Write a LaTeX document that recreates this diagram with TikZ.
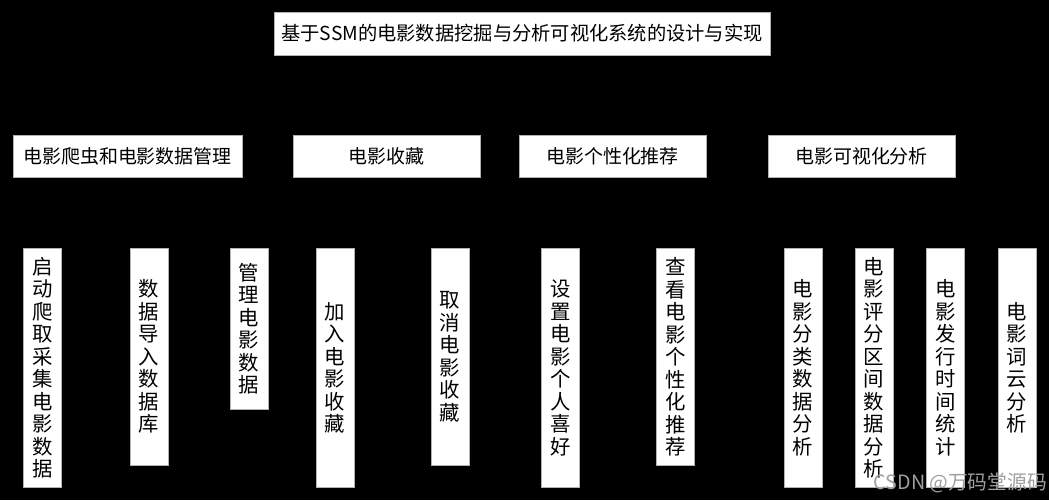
\documentclass[tikz,border=0pt]{standalone}
\usepackage{fontspec}
\setmainfont{Noto Sans CJK SC}
\usetikzlibrary{positioning}

\tikzset{
  box/.style={rectangle,fill=white,draw=gray!60,line width=0.4pt,inner sep=0pt,align=center},
  topbox/.style={box,minimum width=12.4cm,minimum height=1.075cm,font=\fontsize{13.7}{16}\selectfont},
  midbox/.style={box,minimum height=1.05cm,font=\fontsize{13.5}{15}\selectfont},
  leaf/.style={box,anchor=north,minimum width=0.95cm,font=\fontsize{14.5}{16}\selectfont}
}
\newcommand{\leafnode}[4]{\node[leaf,minimum height=#3*0.025cm] (#1) at (#2,248) {#4}}

\begin{document}
\begin{tikzpicture}[x=0.025cm,y=-0.025cm]
  \fill[black] (0,0) rectangle (1049,500);
  \useasboundingbox (0,0) rectangle (1049,500);

  % title
  \node[topbox] (root) at (522,33.5) {基于SSM的电影数据挖掘与分析可视化系统的设计与实现};

  % modules
  \node[midbox,minimum width=229*0.025cm] (crawl)  at (127.5,156) {电影爬虫和电影数据管理};
  \node[midbox,minimum width=187*0.025cm] (fav)    at (386.5,156) {电影收藏};
  \node[midbox,minimum width=187*0.025cm] (rec)    at (612.5,156) {电影个性化推荐};
  \node[midbox,minimum width=187*0.025cm] (vis)    at (861.5,156) {电影可视化分析};

  % functions
  \leafnode{start}{42.5}{239}{启\\动\\爬\\取\\采\\集\\电\\影\\数\\据};
  \leafnode{import}{149}{217}{数\\据\\导\\入\\数\\据\\库};
  \leafnode{manage}{249}{161}{管\\理\\电\\影\\数\\据};
  \leafnode{add}{335}{239}{加\\入\\电\\影\\收\\藏};
  \leafnode{cancel}{450}{217}{取\\消\\电\\影\\收\\藏};
  \leafnode{pref}{560.6}{239}{设\\置\\电\\影\\个\\人\\喜\\好};
  \leafnode{view}{675.7}{217}{查\\看\\电\\影\\个\\性\\化\\推\\荐};
  \leafnode{genre}{803}{239}{电\\影\\分\\类\\数\\据\\分\\析};
  \leafnode{score}{874}{239}{电\\影\\评\\分\\区\\间\\数\\据\\分\\析};
  \leafnode{year}{945.6}{239}{电\\影\\发\\行\\时\\间\\统\\计};
  \leafnode{cloud}{1017}{239}{电\\影\\词\\云\\分\\析};

  \node[anchor=east,text=gray!75,font=\fontsize{14}{16}\selectfont,inner sep=0pt] (mark) at (1047,483) {CSDN @万码堂源码};
\end{tikzpicture}
\end{document}
